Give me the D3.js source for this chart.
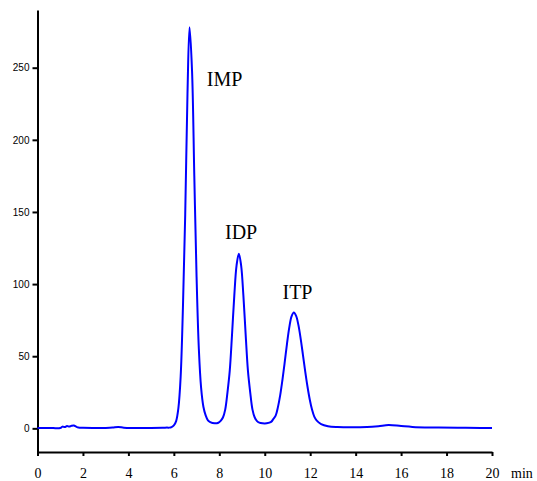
<!DOCTYPE html>
<html>
<head>
<meta charset="utf-8">
<script src="https://cdn.jsdelivr.net/npm/d3@7"></script>
<style>
  body { margin: 0; background: #fff; }
  .trace { fill: none; stroke: #0000ff; stroke-width: 2; }
  .axis path, .axis line { stroke: #000; stroke-width: 2; }
  .y-axis text { font-family: "Liberation Sans", Arial, sans-serif; font-size: 10px; fill: #000; }
  .x-axis text { font-size: 14px; fill: #000; }
</style>
</head>
<body>
<div id="myDiv"></div>
<script>
// chromatogram values (time in min, signal)
var times = [
  0, 0.5, 1.0, 1.1, 1.2, 1.3, 1.4, 1.5, 1.6, 1.7, 1.8, 2.0, 2.5, 3.0, 3.3, 3.55, 3.8, 4.2, 5.0, 5.5, 5.7,
  5.8, 5.9, 6.0, 6.1, 6.2, 6.3, 6.4, 6.5, 6.6, 6.69, 6.8, 6.9, 7.0, 7.1, 7.2, 7.3, 7.4, 7.5, 7.6, 7.8,
  7.96, 8.06, 8.16, 8.26, 8.36, 8.46, 8.56, 8.66, 8.76, 8.86, 8.96, 9.06, 9.16, 9.26, 9.36, 9.46, 9.56, 9.66, 9.76, 9.9, 10.0,
  10.08, 10.28, 10.38, 10.48, 10.58, 10.68, 10.78, 10.88, 10.98, 11.08, 11.18, 11.28, 11.38, 11.48, 11.58, 11.68, 11.78, 11.88, 11.98, 12.08, 12.18, 12.28, 12.48, 12.78,
  13.2, 13.8, 14.5, 15.0, 15.45, 16.0, 16.5, 17.5, 18.5, 19.5, 20
];
var signal = [
  0.3, 0.3, 0.2, 1.2, 0.9, 1.6, 1.2, 1.8, 2.0, 1.2, 0.6, 0.4, 0.3, 0.3, 0.5, 1.0, 0.4, 0.2, 0.3, 0.4, 0.5,
  0.5, 0.9, 2.0, 5, 14, 36, 84, 148, 232, 278, 248, 175, 105, 55, 28, 15, 9, 5.5, 4.3, 3.5,
  3.9, 5.2, 7.5, 13, 25, 40, 65, 92, 113, 121, 113, 92, 65, 40, 25, 13, 7.5, 5, 4, 3.5, 3.4,
  3.5, 4.5, 6.5, 8.8, 14.7, 23, 33.8, 46, 58.8, 70, 77.6, 80.3, 78, 71.7, 62.2, 51, 39.5, 29, 20, 13, 8.1, 5.5, 3, 1.5,
  0.9, 0.7, 0.9, 1.5, 2.3, 1.6, 1.0, 0.6, 0.4, 0.3, 0.3
];

var xTicks = [0, 2, 4, 6, 8, 10, 12, 14, 16, 18, 20];
var yTicks = [0, 50, 100, 150, 200, 250];

var peakNames = ["IMP", "IDP", "ITP"];
var peakTimes = [7.45, 8.25, 10.78];
var peakLabelValues = [237, 131, 90];

var serif = "'Liberation Serif', 'Times New Roman', 'DejaVu Serif', serif";

var width = 537;
var height = 481;
var svg = d3.select("#myDiv")
    .append("svg")
    .attr("width", width)
    .attr("height", height);

var x = d3.scaleLinear()
    .domain([0, 20])
    .range([37.5, 492]);

var y = d3.scaleLinear()
    .domain([-16.4, 290])
    .range([452, 10]);

var points = times.map(function(t, i) {
    return { t: t, v: signal[i] };
});

// axes
svg.append("g")
    .attr("class", "axis y-axis")
    .attr("transform", "translate(" + x(0) + ",0)")
    .call(d3.axisLeft(y).tickValues(yTicks).tickSize(5).tickSizeOuter(0).tickPadding(3));

svg.append("g")
    .attr("class", "axis x-axis")
    .attr("transform", "translate(0," + y.range()[0] + ")")
    .call(d3.axisBottom(x).tickValues(xTicks).tickSize(4).tickSizeOuter(0).tickPadding(12))
    .attr("font-family", serif)
    .selectAll("text")
    .style("font-family", serif);

svg.append("text")
    .attr("x", 511)
    .attr("y", 478)
    .style("font-family", serif)
    .style("font-size", "14px")
    .text("min");

// trace
var line = d3.line()
    .x(function(d) { return x(d.t); })
    .y(function(d) { return y(d.v); })
    .curve(d3.curveCatmullRom);

svg.append("path")
    .datum(points)
    .attr("class", "trace")
    .attr("d", line);

// peak labels
svg.selectAll(".peak-label")
    .data(peakNames)
    .enter()
    .append("text")
    .attr("class", "peak-label")
    .style("font-family", serif)
    .style("font-size", "20px")
    .attr("x", function(d, i) { return x(peakTimes[i]); })
    .attr("y", function(d, i) { return y(peakLabelValues[i]); })
    .text(function(d) { return d; });
</script>
</body>
</html>
